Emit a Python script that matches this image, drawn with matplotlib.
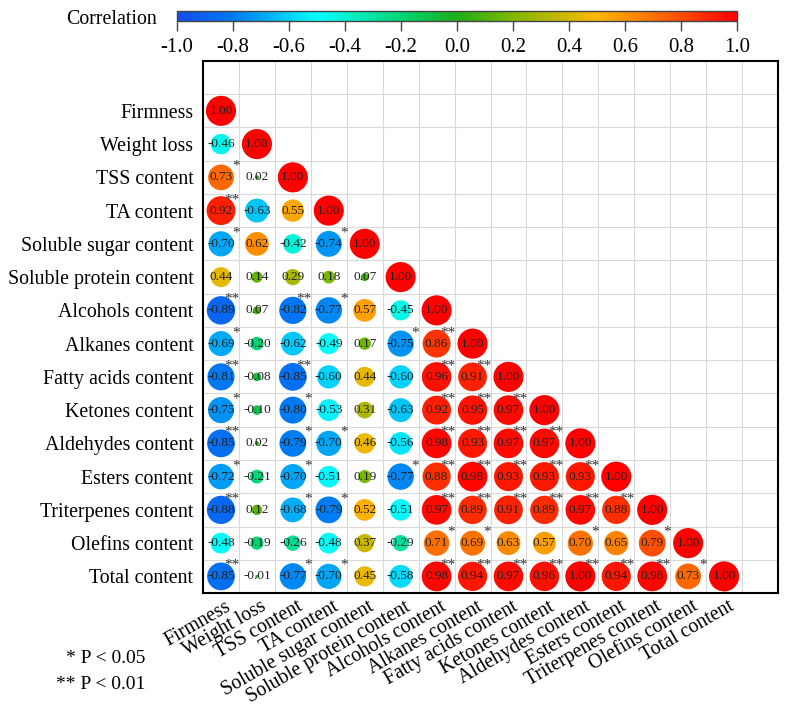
import numpy as np
import matplotlib.pyplot as plt
from matplotlib.colors import LinearSegmentedColormap, Normalize
from matplotlib.colorbar import ColorbarBase

plt.rcParams['font.family'] = ['Liberation Serif', 'DejaVu Serif']

labels = ["Firmness", "Weight loss", "TSS content", "TA content",
          "Soluble sugar content", "Soluble protein content", "Alcohols content",
          "Alkanes content", "Fatty acids content", "Ketones content",
          "Aldehydes content", "Esters content", "Triterpenes content",
          "Olefins content", "Total content"]

# lower triangle, row by row
r_rows = [
    [1.00],
    [-0.46, 1.00],
    [0.73, 0.02, 1.00],
    [0.92, -0.63, 0.55, 1.00],
    [-0.70, 0.62, -0.42, -0.74, 1.00],
    [0.44, 0.14, 0.29, 0.18, 0.07, 1.00],
    [-0.89, 0.07, -0.82, -0.77, 0.57, -0.45, 1.00],
    [-0.69, -0.20, -0.62, -0.49, 0.17, -0.75, 0.86, 1.00],
    [-0.81, -0.08, -0.85, -0.60, 0.44, -0.60, 0.96, 0.91, 1.00],
    [-0.75, -0.10, -0.80, -0.53, 0.31, -0.63, 0.92, 0.95, 0.97, 1.00],
    [-0.85, 0.02, -0.79, -0.70, 0.46, -0.56, 0.98, 0.93, 0.97, 0.97, 1.00],
    [-0.72, -0.21, -0.70, -0.51, 0.19, -0.77, 0.88, 0.98, 0.93, 0.93, 0.93, 1.00],
    [-0.88, 0.12, -0.68, -0.79, 0.52, -0.51, 0.97, 0.89, 0.91, 0.89, 0.97, 0.88, 1.00],
    [-0.48, -0.19, -0.26, -0.48, 0.37, -0.29, 0.71, 0.69, 0.63, 0.57, 0.70, 0.65, 0.79, 1.00],
    [-0.85, -0.01, -0.77, -0.70, 0.45, -0.58, 0.98, 0.94, 0.97, 0.96, 1.00, 0.94, 0.98, 0.73, 1.00],
]

# significance marks (diagonal left blank)
sig_rows = [
    [""],
    ["", ""],
    ["*", "", ""],
    ["**", "", "", ""],
    ["*", "", "", "*", ""],
    ["", "", "", "", "", ""],
    ["**", "", "**", "*", "", "", ""],
    ["*", "", "", "", "", "*", "**", ""],
    ["**", "", "**", "", "", "", "**", "**", ""],
    ["*", "", "*", "", "", "", "**", "**", "**", ""],
    ["**", "", "*", "*", "", "", "**", "**", "**", "**", ""],
    ["*", "", "*", "", "", "*", "**", "**", "**", "**", "**", ""],
    ["**", "", "*", "*", "", "", "**", "**", "**", "**", "**", "**", ""],
    ["", "", "", "", "", "", "*", "*", "", "", "*", "", "*", ""],
    ["**", "", "*", "*", "", "", "**", "**", "**", "**", "**", "**", "**", "*", ""],
]

cbar_ticks = [-1.0, -0.8, -0.6, -0.4, -0.2, 0.0, 0.2, 0.4, 0.6, 0.8, 1.0]

cmap = LinearSegmentedColormap.from_list("corr", [
    (0.00, (0.08, 0.30, 0.93)),
    (0.10, (0.00, 0.48, 0.95)),
    (0.25, (0.00, 1.00, 1.00)),
    (0.40, (0.00, 0.84, 0.45)),
    (0.50, (0.12, 0.68, 0.10)),
    (0.60, (0.50, 0.72, 0.00)),
    (0.75, (1.00, 0.72, 0.00)),
    (0.875, (1.00, 0.38, 0.00)),
    (1.00, (1.00, 0.00, 0.00)),
])
norm = Normalize(-1, 1)

fig = plt.figure(figsize=(7.86, 7.09), dpi=100)
ax = fig.add_axes([0.2583, 0.1636, 0.7315, 0.7504])

n = len(labels)
xs, ys, vals = [], [], []
for i, row in enumerate(r_rows):
    for j, v in enumerate(row):
        xs.append(j)
        ys.append(i + 1)
        vals.append(v)
xs = np.array(xs); ys = np.array(ys); vals = np.array(vals)

ax.scatter(xs, ys, s=np.abs(vals) * 470, c=vals, cmap=cmap, norm=norm,
           edgecolors='none', zorder=3)

for i, row in enumerate(r_rows):
    for j, v in enumerate(row):
        ax.text(j, i + 1, f"{v:.2f}", ha='center', va='center', fontsize=9.5,
                color='#222222', zorder=4)
        s = sig_rows[i][j]
        if s:
            ax.text(j + 0.52, i + 1 - 0.33, s, ha='right', va='center',
                    fontsize=11, color='#333333', zorder=5)

ax.set_xlim(-0.5, n + 0.5)
ax.set_ylim(n + 0.5, -0.5)
ax.set_xticks(np.arange(n + 1) - 0.5, minor=True)
ax.set_yticks(np.arange(n + 1) + 0.5, minor=True)
ax.grid(which='minor', color='#d9d9d9', lw=0.8, zorder=0)
ax.tick_params(which='both', length=0)

ax.set_yticks(np.arange(1, n + 1))
ax.set_yticklabels(labels, fontsize=14.3)
ax.tick_params(axis='y', pad=7)
ax.set_xticks(np.arange(n) + 0.1)
ax.set_xticklabels(labels, fontsize=14.3, rotation=30, ha='right',
                   rotation_mode='anchor')
ax.tick_params(axis='x', pad=3)
for sp in ax.spines.values():
    sp.set_linewidth(1.5)

# colorbar
cax = fig.add_axes([0.2252, 0.9704, 0.7125, 0.0141])
cb = ColorbarBase(cax, cmap=cmap, norm=norm, orientation='horizontal',
                  ticks=cbar_ticks)
cb.outline.set_edgecolor('#444444')
cb.outline.set_linewidth(1.0)
cax.tick_params(direction='out', length=7, width=1, color='#444444',
                labelsize=15, pad=5)
cax.set_xticklabels([f"{t:.1f}" for t in cbar_ticks])
fig.text(0.20, 0.973, "Correlation", ha='right', va='center', fontsize=14.3)

fig.text(0.185, 0.071, "* P < 0.05", ha='right', va='center', fontsize=14)
fig.text(0.185, 0.034, "** P < 0.01", ha='right', va='center', fontsize=14)

fig.savefig("out.png", dpi=100)
